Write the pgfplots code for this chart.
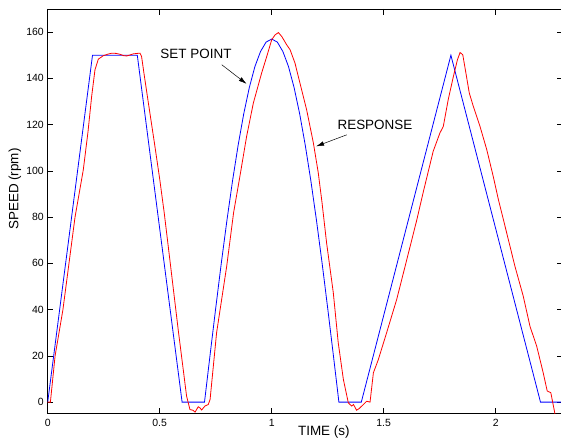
\documentclass[border=0pt]{standalone}
\usepackage{fontspec}
\setmainfont{Liberation Sans}
\usepackage{pgfplots}
\pgfplotsset{compat=1.18}
\usetikzlibrary{arrows.meta}

\begin{document}
\begin{tikzpicture}
% page crop: 561 x 441, axis box from (0,0)
\path[use as bounding box] (-47.7bp,-27.3bp) rectangle (513.3bp,413.7bp);
\begin{axis}[
    at={(0,0)}, anchor=south west,
    scale only axis,
    width=515.2bp, height=404.7bp,
    xmin=0, xmax=2.3,
    ymin=-5, ymax=170,
    xtick={0,0.5,1,1.5,2},
    ytick={0,20,...,160},
    tick align=inside,
    major tick length=5.6bp,
    axis line style={line width=0.6bp},
    tick style={line width=0.6bp, black},
    /pgf/number format/assume math mode=true,
    tick label style={font=\fontsize{10.5}{12}\selectfont},
    xticklabel style={inner sep=0pt, anchor=north, yshift=-5bp},
    yticklabel style={inner sep=0pt, anchor=east, xshift=-3.7bp},
    xlabel={TIME (s)},
    ylabel={SPEED (rpm)},
    label style={font=\fontsize{13.5}{15}\selectfont},
    xlabel style={at={(axis description cs:0.536,-0.0452)}, anchor=center},
    ylabel style={at={(axis description cs:-0.0635,0.555)}, anchor=center},
]
% set point
\addplot[blue, line width=0.8bp] coordinates {
(0,0) (0.2,150) (0.4,150) (0.6,0) (0.7,0)
(0.725,20.5) (0.75,40.6) (0.775,60.1) (0.8,78.5) (0.825,95.6) (0.85,111.0)
(0.875,124.6) (0.9,136.0) (0.925,145.1) (0.95,151.6) (0.975,155.7) (1.0,157.0)
(1.025,155.7) (1.05,151.6) (1.075,145.1) (1.1,136.0) (1.125,124.6) (1.15,111.0)
(1.175,95.6) (1.2,78.5) (1.225,60.1) (1.25,40.6) (1.275,20.5) (1.3,0)
(1.4,0) (1.8,150) (2.2,0) (2.3,0)
};
% response
\addplot[red, line width=0.8bp] coordinates {
(0,0) (0.012,0) (0.033,20) (0.068,40) (0.095,60) (0.122,80) (0.159,100.5)
(0.18,117) (0.196,132) (0.211,143.7) (0.226,148.3) (0.248,149.8) (0.27,150.5)
(0.286,150.9) (0.305,150.8) (0.323,150.4) (0.34,149.8) (0.353,149.7) (0.37,150.2)
(0.382,150.6) (0.4,150.8) (0.412,150.9) (0.419,149.5) (0.43,142) (0.45,129)
(0.475,113) (0.50,96.5) (0.52,82) (0.546,61) (0.583,31) (0.62,2.6)
(0.635,-3.2) (0.648,-3.5) (0.658,-4.3) (0.672,-2) (0.68,-2.5) (0.687,-3.4)
(0.702,-1.7) (0.717,-1.0) (0.725,1.2) (0.754,30) (0.799,58.7) (0.83,82)
(0.858,97.6) (0.888,114.9) (0.918,129.3) (0.955,142.3) (0.978,149.5) (1.0,156.7)
(1.015,158.8) (1.03,159.8) (1.045,158.1) (1.067,154.5) (1.082,152.4) (1.104,146.6)
(1.126,138) (1.156,126.4) (1.186,112.1) (1.208,99.1) (1.225,86) (1.245,68.9)
(1.275,47.3) (1.297,25.7) (1.32,9.8) (1.342,-0.3) (1.357,-1.7) (1.365,-1)
(1.379,-3.5) (1.39,-2.8) (1.402,-1.7) (1.424,0.4) (1.439,0) (1.454,12.7)
(1.476,18.4) (1.513,30) (1.558,44.4) (1.603,61.6) (1.647,78.5)
(1.677,91) (1.721,108.5) (1.751,116.4) (1.766,119.2) (1.788,130.8)
(1.811,140.8) (1.829,148) (1.841,151.2) (1.853,150.2) (1.867,142.3) (1.882,133.7)
(1.9,127.9) (1.93,119.2) (1.96,109.2) (1.989,97.6) (2.012,87.6) (2.049,73.2)
(2.086,58.7) (2.123,45.8) (2.153,32.8) (2.183,24.2) (2.212,12.7) (2.23,4.8)
(2.246,4.1) (2.265,-5.3) (2.27,-7)
};
% annotations
\node[font=\fontsize{13.5}{15}\selectfont, inner sep=0pt] at (axis cs:0.662,150.5) {SET POINT};
\draw[-{Latex[length=8bp,width=4.5bp]}, line width=0.5bp] (axis cs:0.777,145.9) -- (axis cs:0.888,137.6);
\node[font=\fontsize{13.5}{15}\selectfont, inner sep=0pt] at (axis cs:1.461,120) {RESPONSE};
\draw[-{Latex[length=8bp,width=4.5bp]}, line width=0.5bp] (axis cs:1.335,115.6) -- (axis cs:1.198,110.6);
\end{axis}
\end{tikzpicture}
\end{document}
